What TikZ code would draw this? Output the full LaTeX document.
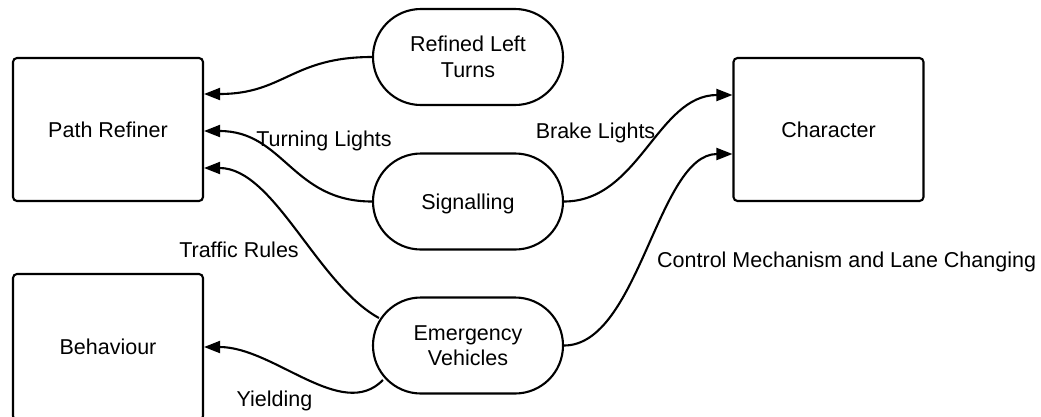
\documentclass[tikz,border=0pt]{standalone}
\usepackage{fontspec}
\setmainfont{Liberation Sans}
\usetikzlibrary{arrows.meta}
\begin{document}
\begin{tikzpicture}[x=1pt,y=-1pt,
  every node/.style={font=\fontsize{21.5}{25.5}\selectfont, inner sep=0pt},
  box/.style={draw, line width=2.1pt, rounded corners=4pt, minimum width=190pt, minimum height=143pt},
  pill/.style={draw, line width=2.1pt, rounded corners=47.9pt, minimum width=190pt, minimum height=96pt, align=center, execute at begin node={\rule{0pt}{21pt}}},
  conn/.style={line width=2.1pt, -{Triangle[length=16pt,width=12pt]}},
  lbl/.style={anchor=base}]
\useasboundingbox (0,0) rectangle (1041,416);
% boxes
\node[box] (pr) at (108,129.5) {Path Refiner};
\node[box] (ch) at (828.5,129.5) {Character};
\node[box, minimum height=146pt] (be) at (108,347) {Behaviour};
% pills
\node[pill] (rl) at (468,57) {Refined Left\\Turns};
\node[pill] (si) at (468,201.5) {Signalling};
\node[pill] (ev) at (468,345.5) {Emergency\\Vehicles};
% connectors
\draw[conn] (rl.west) .. controls +(-80,0) and +(80,0) .. ([yshift=35.5pt]pr.east);
\draw[conn] (si.west) .. controls +(-80,0) and +(80,0) .. ([yshift=-1.5pt]pr.east);
\draw[conn] ([xshift=7pt,yshift=27.5pt]ev.west) .. controls +(-62,-34) and +(70,0) .. ([yshift=-38.5pt]pr.east);
\draw[conn] ([xshift=11pt,yshift=-34.5pt]ev.west) .. controls +(-41,42) and +(70,0) .. (be.east);
\draw[conn] (si.east) .. controls +(75,0) and +(-75,0) .. ([yshift=34.5pt]ch.west);
\draw[conn] (ev.east) .. controls +(75,0) and +(-75,0) .. ([yshift=-24.5pt]ch.west);
% labels
\node[lbl] (tl) at (324,146) {Turning Lights};
\node[lbl] (bl) at (595.5,138) {Brake Lights};
\node[lbl] (tr) at (239,257.5) {Traffic Rules};
\node[lbl] (yi) at (274.5,406.5) {Yielding};
\node[anchor=base west] (cm) at (657,267) {Control Mechanism and Lane Changing};
\end{tikzpicture}
\end{document}
